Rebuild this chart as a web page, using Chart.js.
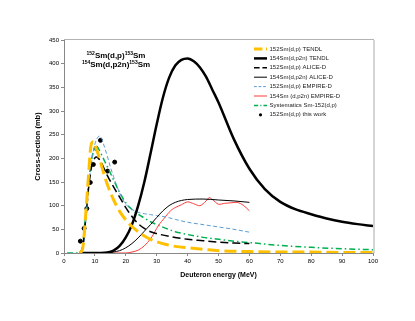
<!DOCTYPE html>
<html><head><meta charset="utf-8">
<script src="https://cdn.jsdelivr.net/npm/chart.js@4.4.1/dist/chart.umd.min.js"></script>
<style>html,body{margin:0;padding:0;background:#fff}</style>
</head><body>
<canvas id="c" width="415" height="321"></canvas>
<script>
// ---- Data ----
const tendl152E = [5,6,7,8,8.5,9,9.5,10,11,12,13,14,15,16,18,20,22,24,26,28,30,33,36,40,45,50,60,70,80,90,100];
const tendl152Y = [0,8,80,170,215,233,235,228,210,188,165,145,128,113,88,70,56,45,36,29,24,18,14,11,8,5,3,2,2,1,1];

const tendl154E = [5,10,12,14,16,18,20,22,24,26,28,30,32,34,36,38,40,42,44,46,48,50,55,60,65,70,75,80,85,90,95,100];
const tendl154Y = [0,0,0,1,5,15,33,60,100,150,210,272,328,370,396,408,411,405,392,372,345,318,240,178,135,108,92,82,73,66,61,57];

const alice152E = [5,6,7,8,9,10,10.5,11,12,13,14,16,18,20,22,24,26,28,30,35,40,45,50,55,60];
const alice152Y = [0,10,70,140,185,201,203,201,192,178,164,140,118,96,77,62,52,45,41,34,29,26,23,21,20];

const alice154E = [5,10,14,16,18,20,22,24,26,28,30,32,34,36,38,40,45,50,55,60];
const alice154Y = [0,0,0,2,5,11,20,32,46,60,75,89,100,107,111,113,114,112,110,107];

const empire152E = [5,6,7,8,9,10,11,11.5,12,13,14,15,16,17,18,19,20,22,24,26,28,30,33,36,40,45,50,55,60];
const empire152Y = [0,5,60,140,195,230,245,247,245,226,205,182,162,143,127,113,103,92,86,83,81,79,76,71,65,60,55,50,44];

const empire154E = [5,20,22,24,26,28,29,30,31,32,33,34,35,36,38,40,42,44,46,47,48,50,52,54,56,58,60];
const empire154Y = [0,0,2,6,15,30,40,52,62,70,78,86,92,96,102,108,104,100,110,117,113,103,105,106,107,101,89];

const systE = [1,5,6,7,8,9,10,10.5,11,12,13,14,16,18,20,22,24,26,28,30,33,36,40,45,50,55,60,70,80,90,100];
const systY = [0,0,15,80,150,200,222,225,222,210,196,183,155,128,106,92,82,74,66,60,52,45,39,33,29,25,22,16,12,9,7];

const workE = [5.3,6.5,7.4,8.5,9.5,10.4,11.8,14.1,16.4];
const workY = [25,52,94,149,187,221,238,173,192];

const seriesLabels = ['152Sm(d,p) TENDL','154Sm(d,p2n) TENDL','152Sm(d,p) ALICE-D','154Sm(d,p2n) ALICE-D',
  '152Sm(d,p) EMPIRE-D','154Sm (d,p2n) EMPIRE-D','Systematics Sm-152(d,p)','152Sm(d,p) this work'];
const yTicksMax = 450, yStep = 50, xMax = 100, xStep = 10;

// ---- Chart ----
const FONT = "'Liberation Sans', Arial, sans-serif";
const pts = (xs, ys) => xs.map((x, i) => ({x, y: ys[i]}));
const lineDs = (label, xs, ys, color, width, dash, extra) => Object.assign({
  label, data: pts(xs, ys), borderColor: color, backgroundColor: color, borderWidth: width,
  borderDash: dash, pointRadius: 0, fill: false, cubicInterpolationMode: 'monotone'
}, extra || {});

const datasets = [
  lineDs(seriesLabels[0], tendl152E, tendl152Y, '#FFC000', 3, [12,5]),
  lineDs(seriesLabels[1], tendl154E, tendl154Y, '#000000', 2.5, []),
  lineDs(seriesLabels[2], alice152E, alice152Y, '#000000', 1.5, [8,4]),
  lineDs(seriesLabels[3], alice154E, alice154Y, '#000000', 1, []),
  lineDs(seriesLabels[4], empire152E, empire152Y, '#5B9BD5', 1, [4,2.5]),
  lineDs(seriesLabels[5], empire154E, empire154Y, '#FF3B3B', 1, [], {cubicInterpolationMode: 'default', tension: 0.3}),
  lineDs(seriesLabels[6], systE, systY, '#00B050', 1.5, [6,3,1.5,3]),
  {label: seriesLabels[7], data: pts(workE, workY), showLine: false, pointRadius: 2,
   pointBackgroundColor: '#000', pointBorderColor: '#000', borderColor: '#000', backgroundColor: '#000'}
];

const framePlugin = {
  id: 'frame',
  afterDraw(chart) {
    const {ctx, chartArea: a} = chart;
    ctx.save();
    ctx.strokeStyle = '#b3b3b3'; ctx.lineWidth = 1;
    ctx.beginPath(); ctx.moveTo(a.left, a.top - 0.5); ctx.lineTo(a.right + 1, a.top - 0.5); ctx.stroke();
    ctx.strokeStyle = '#d4d4d4'; ctx.lineWidth = 2;
    ctx.beginPath(); ctx.moveTo(a.right + 1, a.top); ctx.lineTo(a.right + 1, a.bottom); ctx.stroke();
    ctx.restore();
  }
};

const titlePlugin = {
  id: 'reactTitle',
  afterDraw(chart) {
    const {ctx, chartArea: a} = chart;
    const lines = [
      [['152', true], ['Sm(d,p)', false], ['153', true], ['Sm', false]],
      [['154', true], ['Sm(d,p2n)', false], ['153', true], ['Sm', false]]
    ];
    const cx = a.left + 52, y0 = a.top + 15, lh = 8.5;
    ctx.save();
    ctx.fillStyle = '#000'; ctx.textBaseline = 'alphabetic';
    lines.forEach((parts, li) => {
      const fonts = parts.map(p => p[1] ? 'bold 5px ' + FONT : 'bold 8px ' + FONT);
      let w = 0;
      parts.forEach((p, i) => { ctx.font = fonts[i]; w += ctx.measureText(p[0]).width; });
      let x = cx - w / 2;
      const y = y0 + li * lh + 3;
      parts.forEach((p, i) => {
        ctx.font = fonts[i];
        ctx.fillText(p[0], x, p[1] ? y - 3 : y);
        x += ctx.measureText(p[0]).width;
      });
    });
    ctx.restore();
  }
};

const legendPlugin = {
  id: 'boxLegend',
  afterDraw(chart) {
    const {ctx, chartArea: a} = chart;
    const x0 = a.left + 190, x1 = a.left + 203, tx = a.left + 205.5;
    const y0 = a.top + 9, dy = 9.4;
    ctx.save();
    ctx.font = '6px ' + FONT; ctx.textBaseline = 'middle'; ctx.fillStyle = '#222';
    chart.data.datasets.forEach((ds, i) => {
      const y = y0 + i * dy;
      ctx.save();
      if (ds.showLine === false) {
        ctx.fillStyle = '#000';
        ctx.beginPath(); ctx.arc((x0 + x1) / 2, y, 1.6, 0, Math.PI * 2); ctx.fill();
      } else {
        ctx.strokeStyle = ds.borderColor; ctx.lineWidth = ds.borderWidth;
        ctx.setLineDash(ds.borderDash.length ? ds.borderDash.map(v => v * 0.7) : []);
        ctx.beginPath(); ctx.moveTo(x0, y); ctx.lineTo(x1, y); ctx.stroke();
      }
      ctx.restore();
      ctx.fillText(ds.label, tx, y);
    });
    ctx.restore();
  }
};

new Chart(document.getElementById('c'), {
  type: 'line',
  data: {datasets},
  options: {
    responsive: false, animation: false,
    layout: {padding: {left: 33, top: 40, right: 42, bottom: 42}},
    plugins: {legend: {display: false}, tooltip: {enabled: false}},
    scales: {
      x: {
        type: 'linear', min: 0, max: xMax,
        ticks: {stepSize: xStep, color: '#000', font: {size: 6, family: FONT}, padding: 2, maxRotation: 0},
        grid: {drawOnChartArea: false, drawTicks: true, tickLength: 3, color: '#888'},
        border: {display: true, color: '#888', width: 1},
        title: {display: true, text: 'Deuteron energy (MeV)', color: '#000', font: {size: 7, weight: 'bold', family: FONT}, padding: 0},
        afterFit: s => { s.height = 26; }
      },
      y: {
        min: 0, max: yTicksMax,
        ticks: {stepSize: yStep, color: '#000', font: {size: 6, family: FONT}, padding: 2},
        grid: {drawOnChartArea: false, drawTicks: true, tickLength: 3, color: '#888'},
        border: {display: true, color: '#888', width: 1},
        title: {display: true, text: 'Cross-section (mb)', color: '#000', font: {size: 7.5, weight: 'bold', family: FONT}, padding: 0},
        afterFit: s => { s.width = 31; }
      }
    }
  },
  plugins: [framePlugin, titlePlugin, legendPlugin]
});
</script>
</body></html>
